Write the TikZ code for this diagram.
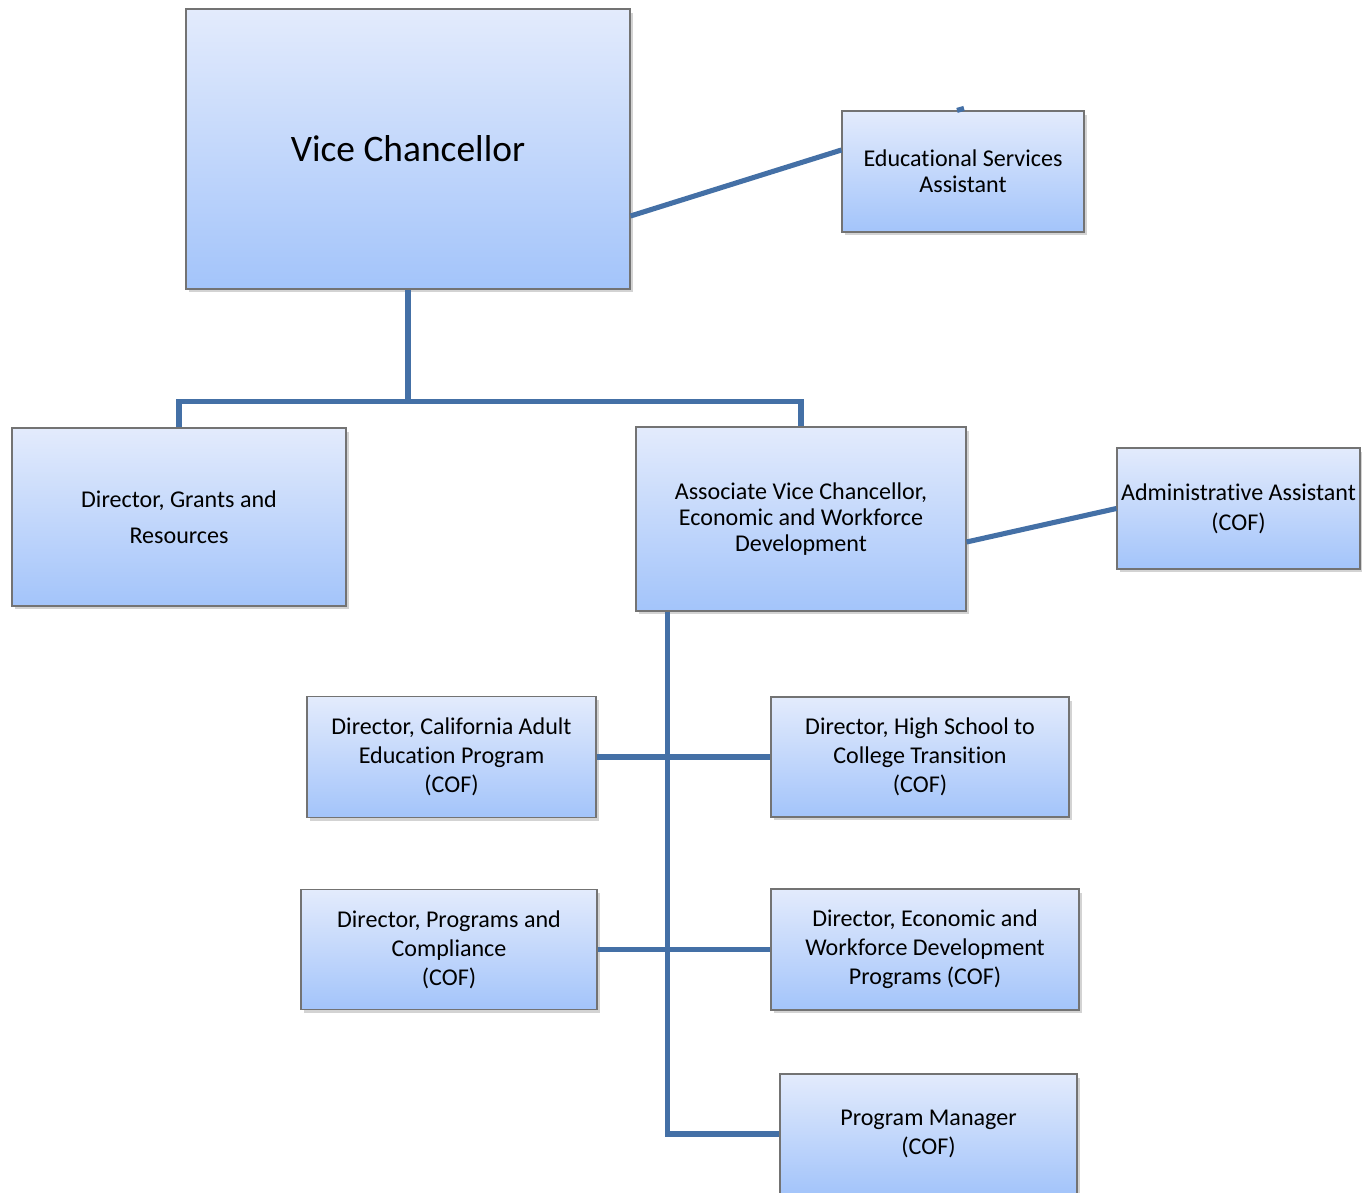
\documentclass[tikz,border=0pt]{standalone}
\usepackage{fontspec}
\setmainfont[Ligatures=CommonOff]{Carlito}
\usepackage{tikz}
\usetikzlibrary{positioning,shapes,shadows}
\definecolor{boxtop}{RGB}{227,235,252}
\definecolor{boxbot}{RGB}{163,196,250}
\definecolor{linkblue}{RGB}{68,112,166}

\begin{document}
\begin{tikzpicture}[x=0.02cm,y=-0.02cm,
  orgbox/.style={draw=gray!90!black,line width=0.7pt,top color=boxtop,bottom color=boxbot,
    align=center,inner sep=2pt,font=\fontsize{13.7}{14.8}\selectfont,
    drop shadow={opacity=0.35,shadow xshift=0.06cm,shadow yshift=-0.07cm}},
  link/.style={draw=linkblue,line width=2.9pt}]
\useasboundingbox (0,0) rectangle (1362,1193);
\node[orgbox,minimum width=8.88cm,minimum height=5.6cm,font=\fontsize{21.3}{25}\selectfont] (vc) at (408,149) {Vice Chancellor};
\node[orgbox,minimum width=4.84cm,minimum height=2.42cm] (esa) at (963,171.5) {Educational Services\\Assistant};
\node[orgbox,minimum width=6.68cm,minimum height=3.56cm,font=\fontsize{13.7}{20.4}\selectfont] (dgr) at (179,517) {Director, Grants and\\Resources};
\node[orgbox,minimum width=6.6cm,minimum height=3.68cm] (avc) at (801,519) {Associate Vice Chancellor,\\Economic and Workforce\\Development};
\node[orgbox,minimum width=4.86cm,minimum height=2.42cm,font=\fontsize{13.7}{17}\selectfont] (aa) at (1238.5,508.5) {Administrative Assistant\\(COF)};
\node[orgbox,minimum width=5.78cm,minimum height=2.42cm,font=\fontsize{13.7}{16.4}\selectfont] (dca) at (451.5,757) {Director, California Adult\\Education Program\\(COF)};
\node[orgbox,minimum width=5.96cm,minimum height=2.4cm,font=\fontsize{13.7}{16.4}\selectfont] (dhs) at (920,757) {Director, High School to\\College Transition\\(COF)};
\node[orgbox,minimum width=5.92cm,minimum height=2.4cm,font=\fontsize{13.7}{16.4}\selectfont] (dpc) at (449,949.5) {Director, Programs and\\Compliance\\(COF)};
\node[orgbox,minimum width=6.16cm,minimum height=2.42cm,font=\fontsize{13.7}{16.4}\selectfont] (dew) at (925,949.5) {Director, Economic and\\Workforce Development\\Programs (COF)};
\node[orgbox,minimum width=5.94cm,minimum height=2.4cm,font=\fontsize{13.7}{16.4}\selectfont] (pm) at (928.5,1134) {Program Manager\\(COF)};
\draw[link] ([yshift=-1.34cm]vc.east) -- ([yshift=0.43cm]esa.west);
\draw[link] ([xshift=-0.12cm]esa.north) -- ++(7,-2);
\draw[link] (vc.south) -- ++(0,112) coordinate (split);
\draw[link] (dgr.north) |- (split) -| (avc.north);
\draw[link] ([yshift=-0.46cm]avc.east) -- (aa.west);
\coordinate (trunk) at ([xshift=0.64cm]avc.south west);
\draw[link] (trunk) |- (pm.west);
\draw[link] (dca.east) -- (dhs.west);
\draw[link] (dpc.east) -- (dew.west);
\end{tikzpicture}
\end{document}
